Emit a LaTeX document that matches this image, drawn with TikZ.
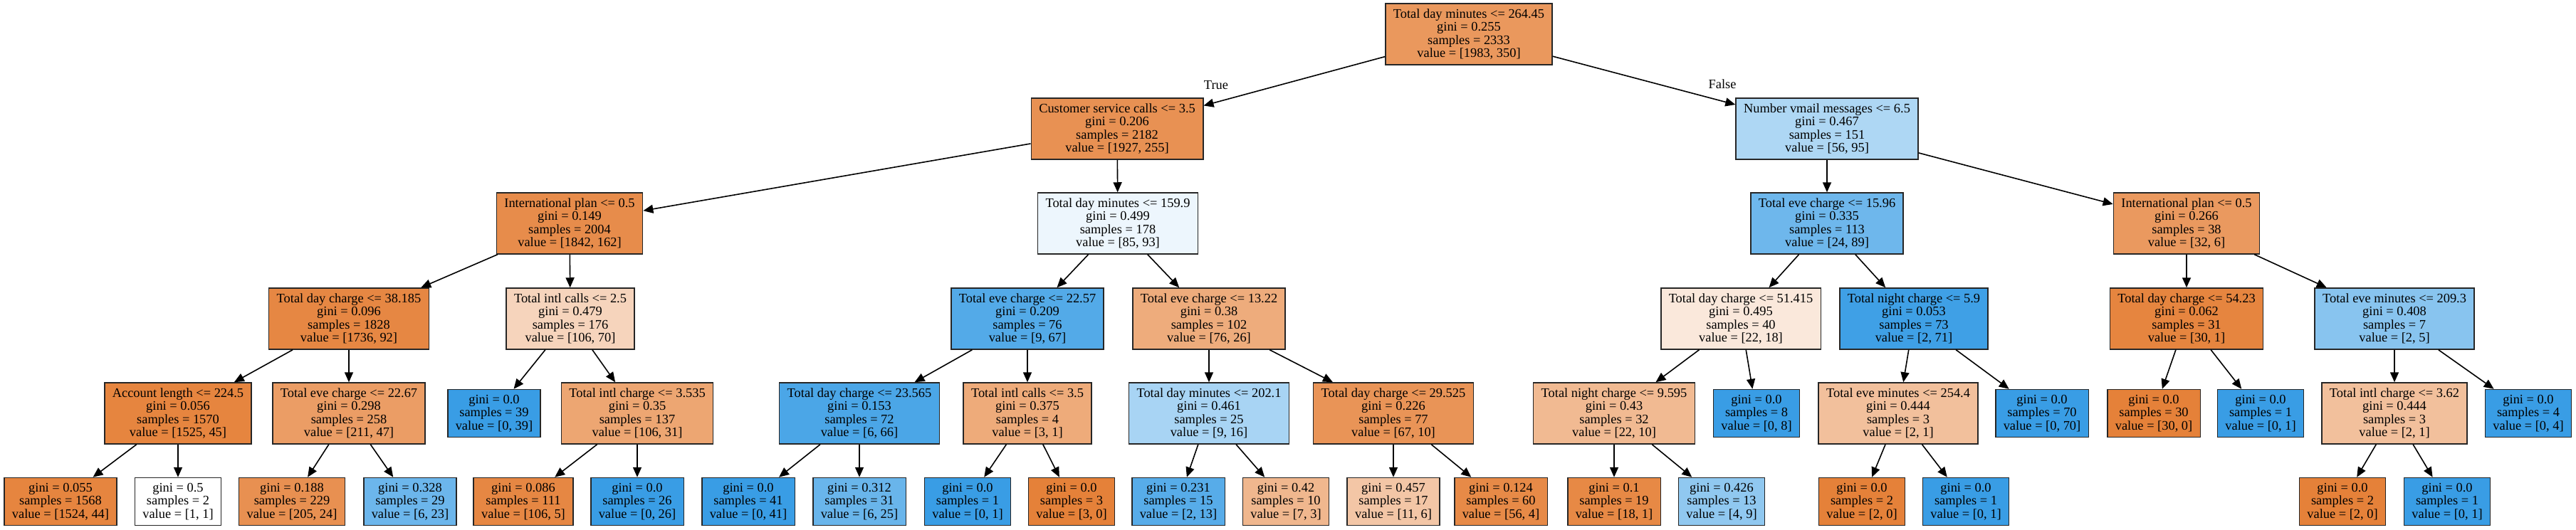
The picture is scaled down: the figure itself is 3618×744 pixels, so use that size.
\documentclass[tikz,border=0pt]{standalone}
\usepackage{fontspec}
\setmainfont{Liberation Serif}
\definecolor{ClassOrange}{RGB}{229,129,57}
\definecolor{ClassBlue}{RGB}{57,157,229}
\usetikzlibrary{arrows.meta}

\begin{document}
\begin{tikzpicture}[x=1pt, y=-1pt,
		split/.style={draw=black!85, line width=1.5pt, rectangle, minimum height=86pt, inner xsep=11pt, inner ysep=0pt, align=center, font=\fontsize{18.4}{18.3}\selectfont},
		leaf/.style={split, minimum height=67pt},
		lbl/.style={font=\fontsize{18.4}{18.3}\selectfont},
		arr/.style={-{Triangle[length=14pt,width=12pt]}, line width=1.6pt}]
	\useasboundingbox (0,0) rectangle (3618,744);
	% root and first split
	\node[split, fill=ClassOrange!82] (n0) at (2063,48) {Total day minutes <= 264.45\\ gini = 0.255\\ samples = 2333\\ value = [1983, 350]};
	\node[split, fill=ClassOrange!87] (n1) at (1569,181) {Customer service calls <= 3.5\\ gini = 0.206\\ samples = 2182\\ value = [1927, 255]};
	\node[split, fill=ClassBlue!41] (n30) at (2566,181) {Number vmail messages <= 6.5\\ gini = 0.467\\ samples = 151\\ value = [56, 95]};
	\node[lbl] (lt) at (1708,120) {True};
	\node[lbl] (lf) at (2419,118) {False};
	% left branch
	\node[split, fill=ClassOrange!91] (n2) at (800,314) {International plan <= 0.5\\ gini = 0.149\\ samples = 2004\\ value = [1842, 162]};
	\node[split, fill=ClassOrange!95] (n3) at (490,448) {Total day charge <= 38.185\\ gini = 0.096\\ samples = 1828\\ value = [1736, 92]};
	\node[split, fill=ClassOrange!97] (n4) at (250,581) {Account length <= 224.5\\ gini = 0.056\\ samples = 1570\\ value = [1525, 45]};
	\node[leaf, fill=ClassOrange!97] (n5) at (85,705) {gini = 0.055\\ samples = 1568\\ value = [1524, 44]};
	\node[leaf, fill=white] (n6) at (250,705) {gini = 0.5\\ samples = 2\\ value = [1, 1]};
	\node[split, fill=ClassOrange!78] (n7) at (490,581) {Total eve charge <= 22.67\\ gini = 0.298\\ samples = 258\\ value = [211, 47]};
	\node[leaf, fill=ClassOrange!88] (n8) at (410,705) {gini = 0.188\\ samples = 229\\ value = [205, 24]};
	\node[leaf, fill=ClassBlue!74] (n9) at (576,705) {gini = 0.328\\ samples = 29\\ value = [6, 23]};
	\node[split, fill=ClassOrange!34] (n10) at (801,448) {Total intl calls <= 2.5\\ gini = 0.479\\ samples = 176\\ value = [106, 70]};
	\node[leaf, fill=ClassBlue] (n11) at (694,581) {gini = 0.0\\ samples = 39\\ value = [0, 39]};
	\node[split, fill=ClassOrange!71] (n12) at (895,581) {Total intl charge <= 3.535\\ gini = 0.35\\ samples = 137\\ value = [106, 31]};
	\node[leaf, fill=ClassOrange!95] (n13) at (735,705) {gini = 0.086\\ samples = 111\\ value = [106, 5]};
	\node[leaf, fill=ClassBlue] (n14) at (895,705) {gini = 0.0\\ samples = 26\\ value = [0, 26]};
	\node[split, fill=ClassBlue!9] (n15) at (1570,314) {Total day minutes <= 159.9\\ gini = 0.499\\ samples = 178\\ value = [85, 93]};
	\node[split, fill=ClassBlue!87] (n16) at (1443,448) {Total eve charge <= 22.57\\ gini = 0.209\\ samples = 76\\ value = [9, 67]};
	\node[split, fill=ClassBlue!91] (n17) at (1207,581) {Total day charge <= 23.565\\ gini = 0.153\\ samples = 72\\ value = [6, 66]};
	\node[leaf, fill=ClassBlue] (n18) at (1051,705) {gini = 0.0\\ samples = 41\\ value = [0, 41]};
	\node[leaf, fill=ClassBlue!76] (n19) at (1207,705) {gini = 0.312\\ samples = 31\\ value = [6, 25]};
	\node[split, fill=ClassOrange!67] (n20) at (1443,581) {Total intl calls <= 3.5\\ gini = 0.375\\ samples = 4\\ value = [3, 1]};
	\node[leaf, fill=ClassBlue] (n21) at (1359,705) {gini = 0.0\\ samples = 1\\ value = [0, 1]};
	\node[leaf, fill=ClassOrange] (n22) at (1505,705) {gini = 0.0\\ samples = 3\\ value = [3, 0]};
	\node[split, fill=ClassOrange!66] (n23) at (1698,448) {Total eve charge <= 13.22\\ gini = 0.38\\ samples = 102\\ value = [76, 26]};
	\node[split, fill=ClassBlue!44] (n24) at (1698,581) {Total day minutes <= 202.1\\ gini = 0.461\\ samples = 25\\ value = [9, 16]};
	\node[leaf, fill=ClassBlue!85] (n25) at (1655,705) {gini = 0.231\\ samples = 15\\ value = [2, 13]};
	\node[leaf, fill=ClassOrange!57] (n26) at (1806,705) {gini = 0.42\\ samples = 10\\ value = [7, 3]};
	\node[split, fill=ClassOrange!85] (n27) at (1957,581) {Total day charge <= 29.525\\ gini = 0.226\\ samples = 77\\ value = [67, 10]};
	\node[leaf, fill=ClassOrange!45] (n28) at (1957,705) {gini = 0.457\\ samples = 17\\ value = [11, 6]};
	\node[leaf, fill=ClassOrange!93] (n29) at (2108,705) {gini = 0.124\\ samples = 60\\ value = [56, 4]};
	% right branch
	\node[split, fill=ClassBlue!73] (n31) at (2566,314) {Total eve charge <= 15.96\\ gini = 0.335\\ samples = 113\\ value = [24, 89]};
	\node[split, fill=ClassOrange!18] (n32) at (2445,448) {Total day charge <= 51.415\\ gini = 0.495\\ samples = 40\\ value = [22, 18]};
	\node[split, fill=ClassOrange!55] (n33) at (2267,581) {Total night charge <= 9.595\\ gini = 0.43\\ samples = 32\\ value = [22, 10]};
	\node[leaf, fill=ClassOrange!94] (n34) at (2267,705) {gini = 0.1\\ samples = 19\\ value = [18, 1]};
	\node[leaf, fill=ClassBlue!56] (n35) at (2418,705) {gini = 0.426\\ samples = 13\\ value = [4, 9]};
	\node[leaf, fill=ClassBlue] (n36) at (2467,581) {gini = 0.0\\ samples = 8\\ value = [0, 8]};
	\node[split, fill=ClassBlue!97] (n37) at (2688,448) {Total night charge <= 5.9\\ gini = 0.053\\ samples = 73\\ value = [2, 71]};
	\node[split, fill=ClassOrange!50] (n38) at (2666,581) {Total eve minutes <= 254.4\\ gini = 0.444\\ samples = 3\\ value = [2, 1]};
	\node[leaf, fill=ClassOrange] (n39) at (2615,705) {gini = 0.0\\ samples = 2\\ value = [2, 0]};
	\node[leaf, fill=ClassBlue] (n40) at (2761,705) {gini = 0.0\\ samples = 1\\ value = [0, 1]};
	\node[leaf, fill=ClassBlue] (n41) at (2868,581) {gini = 0.0\\ samples = 70\\ value = [0, 70]};
	\node[split, fill=ClassOrange!81] (n42) at (3071,314) {International plan <= 0.5\\ gini = 0.266\\ samples = 38\\ value = [32, 6]};
	\node[split, fill=ClassOrange!97] (n43) at (3071,448) {Total day charge <= 54.23\\ gini = 0.062\\ samples = 31\\ value = [30, 1]};
	\node[leaf, fill=ClassOrange] (n44) at (3025,581) {gini = 0.0\\ samples = 30\\ value = [30, 0]};
	\node[leaf, fill=ClassBlue] (n45) at (3175,581) {gini = 0.0\\ samples = 1\\ value = [0, 1]};
	\node[split, fill=ClassBlue!60] (n46) at (3363,448) {Total eve minutes <= 209.3\\ gini = 0.408\\ samples = 7\\ value = [2, 5]};
	\node[split, fill=ClassOrange!50] (n47) at (3363,581) {Total intl charge <= 3.62\\ gini = 0.444\\ samples = 3\\ value = [2, 1]};
	\node[leaf, fill=ClassOrange] (n48) at (3290,705) {gini = 0.0\\ samples = 2\\ value = [2, 0]};
	\node[leaf, fill=ClassBlue] (n49) at (3437,705) {gini = 0.0\\ samples = 1\\ value = [0, 1]};
	\node[leaf, fill=ClassBlue] (n50) at (3551,581) {gini = 0.0\\ samples = 4\\ value = [0, 4]};
	% edges
	\foreach \a/\b in {0/1, 0/30, 1/2, 1/15, 2/3, 2/10, 3/4, 3/7, 4/5, 4/6, 7/8, 7/9,
		10/11, 10/12, 12/13, 12/14, 15/16, 15/23, 16/17, 16/20, 17/18, 17/19, 20/21, 20/22,
		23/24, 23/27, 24/25, 24/26, 27/28, 27/29, 30/31, 30/42, 31/32, 31/37, 32/33, 32/36,
		33/34, 33/35, 37/38, 37/41, 38/39, 38/40, 42/43, 42/46, 43/44, 43/45, 46/47, 46/50,
		47/48, 47/49}
		\draw[arr] (n\a) -- (n\b);
\end{tikzpicture}
\end{document}
